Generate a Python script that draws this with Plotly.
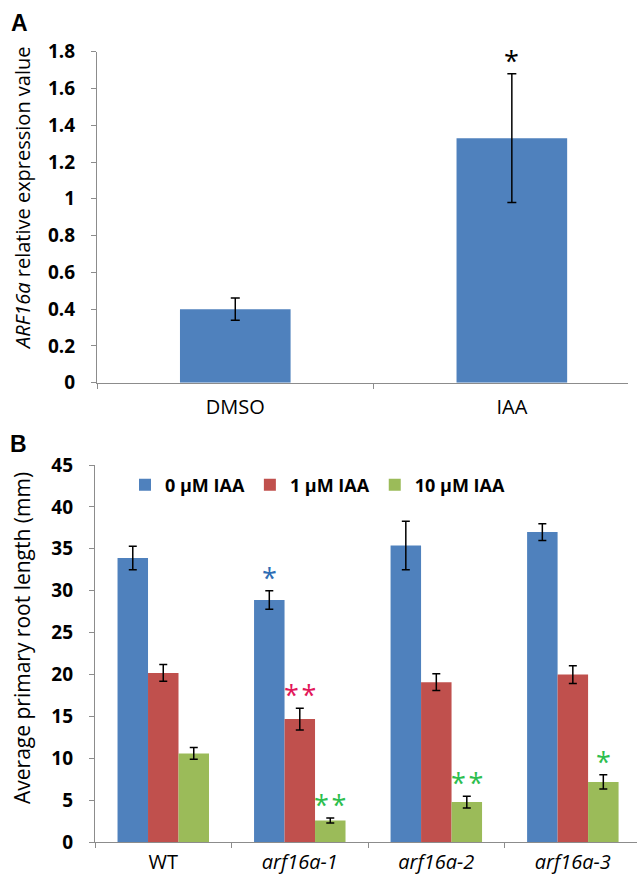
import plotly.graph_objects as go

# ---------------- Panel A data ----------------
a_categories = ["DMSO", "IAA"]
a_values = [0.40, 1.33]
a_errors = [0.06, 0.35]
a_stars = ["", "*"]

# ---------------- Panel B data ----------------
b_genotypes = ["WT", "arf16a-1", "arf16a-2", "arf16a-3"]
b_italic = [False, True, True, True]
b_series_names = ["0 µM IAA", "1 µM IAA", "10 µM IAA"]
b_iaa0 = [33.9, 28.9, 35.4, 37.0]
b_iaa0_err = [1.4, 1.1, 2.9, 1.0]
b_iaa1 = [20.2, 14.7, 19.1, 20.0]
b_iaa1_err = [1.0, 1.3, 1.0, 1.05]
b_iaa10 = [10.6, 2.6, 4.8, 7.2]
b_iaa10_err = [0.7, 0.3, 0.7, 0.85]
b_iaa0_stars = ["", "*", "", ""]
b_iaa1_stars = ["", "**", "", ""]
b_iaa10_stars = ["", "**", "**", "*"]

# ---------------- styles ----------------
W, H = 638, 875
FONT = "Open Sans"
BLUE, RED, GREEN = "#4F81BD", "#C0504D", "#9BBB59"
STAR_COLORS = ["#2E6DB4", "#E2175A", "#2DBE4E"]
AXIS_GREY = "#8C8C8C"

b_labels = [f"<i>{g}</i>" if it else g for g, it in zip(b_genotypes, b_italic)]

fig = go.Figure()

# Panel A
fig.add_trace(go.Bar(
    x=a_categories, y=a_values, width=0.40,
    marker=dict(color=BLUE, line=dict(width=0)),
    error_y=dict(type="data", array=a_errors, color="black", thickness=1.5, width=4.5),
    xaxis="x", yaxis="y", showlegend=False,
))

# Panel B
series = [
    (b_series_names[0], b_iaa0, b_iaa0_err, BLUE),
    (b_series_names[1], b_iaa1, b_iaa1_err, RED),
    (b_series_names[2], b_iaa10, b_iaa10_err, GREEN),
]
for name, vals, errs, col in series:
    fig.add_trace(go.Bar(
        x=b_labels, y=vals, name=name,
        marker=dict(color=col, line=dict(width=0)),
        error_y=dict(type="data", array=errs, color="black", thickness=1.5, width=4),
        xaxis="x2", yaxis="y2",
    ))

STAR_SIZE = 27
STAR_SHIFT = -7

annotations = []
# star annotations panel A
for i, (v, e, s) in enumerate(zip(a_values, a_errors, a_stars)):
    if s:
        annotations.append(dict(x=i, y=v + e, xref="x", yref="y", text=s, showarrow=False,
                                yanchor="bottom", yshift=STAR_SHIFT,
                                font=dict(family=FONT, size=STAR_SIZE, color="black")))

# star annotations panel B
bargap = 0.33
bar_w = (1 - bargap) / 3
star_sets = [
    (b_iaa0, b_iaa0_err, b_iaa0_stars),
    (b_iaa1, b_iaa1_err, b_iaa1_stars),
    (b_iaa10, b_iaa10_err, b_iaa10_stars),
]
for k, (vals, errs, stars) in enumerate(star_sets):
    for i, (v, e, s) in enumerate(zip(vals, errs, stars)):
        if s:
            annotations.append(dict(x=i + (k - 1) * bar_w, y=v + e, xref="x2", yref="y2",
                                    text=s.replace("**", "*\u200a*"), showarrow=False,
                                    yanchor="bottom", yshift=STAR_SHIFT,
                                    font=dict(family=FONT, size=STAR_SIZE, color=STAR_COLORS[k])))

# panel letters
annotations.append(dict(x=9 / W, y=1 - 8 / H, xref="paper", yref="paper", text="<b>A</b>",
                        showarrow=False, xanchor="left", yanchor="top",
                        font=dict(family="Liberation Sans", size=23, color="black")))
annotations.append(dict(x=8 / W, y=1 - 429 / H, xref="paper", yref="paper", text="<b>B</b>",
                        showarrow=False, xanchor="left", yanchor="top",
                        font=dict(family="Liberation Sans", size=23, color="black")))

# axis titles
annotations.append(dict(x=22 / W, y=1 - 198 / H, xref="paper", yref="paper",
                        text="<i>ARF16a</i> relative expression value", textangle=-90,
                        showarrow=False, xanchor="center", yanchor="middle",
                        font=dict(family=FONT, size=20, color="black")))
annotations.append(dict(x=22 / W, y=1 - 638 / H, xref="paper", yref="paper",
                        text="Average primary root length (mm)", textangle=-90,
                        showarrow=False, xanchor="center", yanchor="middle",
                        font=dict(family=FONT, size=21, color="black")))

tick_font = dict(family=FONT, size=19, color="black", weight="bold")
cat_font = dict(family=FONT, size=20, color="black")

common_axis = dict(showline=True, linecolor=AXIS_GREY, linewidth=1.2, ticks="outside",
                   ticklen=5, tickcolor=AXIS_GREY, showgrid=False, automargin=False,
                   fixedrange=True)

fig.update_layout(
    template="none",
    width=W, height=H,
    margin=dict(l=0, r=0, t=0, b=0, pad=0, autoexpand=False),
    paper_bgcolor="white", plot_bgcolor="white",
    barmode="group", bargap=bargap, bargroupgap=0,
    font=dict(family=FONT, color="black"),
    xaxis=dict(domain=[97 / W, 628 / W], anchor="y", type="category",
               range=[-0.5, 1.42], tickson="boundaries",
               tickfont=cat_font, ticklabelstandoff=6, **common_axis),
    yaxis=dict(domain=[1 - 382.7 / H, 1 - 51.7 / H], anchor="x",
               range=[0, 1.8], dtick=0.2, tickformat="~g", zeroline=False,
               tickfont=tick_font, ticklabelstandoff=12, **common_axis),
    xaxis2=dict(domain=[95 / W, 637 / W], anchor="y2", type="category",
                range=[-0.5, 3.47], tickson="boundaries",
                tickfont=cat_font, ticklabelstandoff=2, **common_axis),
    yaxis2=dict(domain=[1 - 842.3 / H, 1 - 465 / H], anchor="x2",
                range=[0, 45], dtick=5, zeroline=False,
                tickfont=tick_font, ticklabelstandoff=12, **common_axis),
    legend=dict(orientation="h", x=125 / W, y=1 - 485 / H, xanchor="left", yanchor="middle",
                font=dict(family=FONT, size=18, color="black", weight="bold"),
                bgcolor="rgba(0,0,0,0)", itemwidth=30, traceorder="normal"),
    annotations=annotations,
)

fig.write_html(
    "out.html",
    config={"displayModeBar": False},
    post_script="document.body.style.margin='0px';document.body.style.overflow='hidden';",
)
